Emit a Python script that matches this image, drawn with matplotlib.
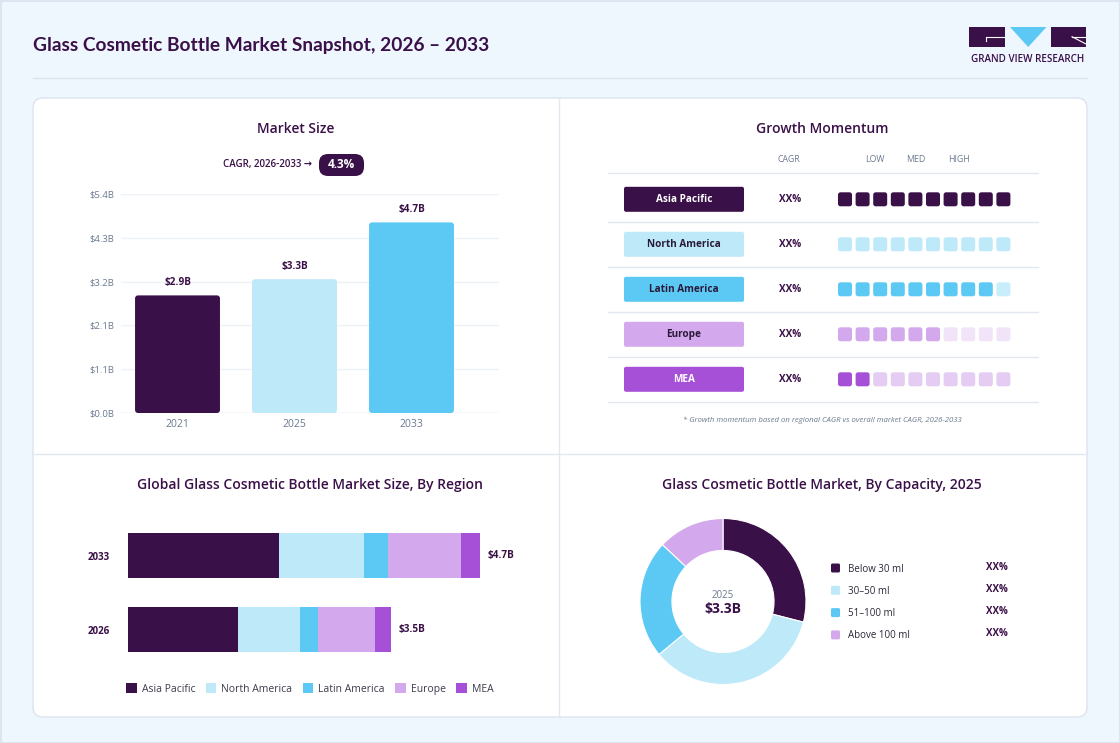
import matplotlib
matplotlib.use('Agg')
import matplotlib.pyplot as plt
from matplotlib.patches import FancyBboxPatch, Rectangle, Polygon
import numpy as np

plt.rcParams['font.family'] = ['Open Sans', 'DejaVu Sans']

# ---------------- data ----------------
title_text = 'Glass Cosmetic Bottle Market Snapshot, 2026 – 2033'

ms_years = ['2021', '2025', '2033']
ms_values = [2.9, 3.3, 4.7]
ms_value_labels = ['$2.9B', '$3.3B', '$4.7B']
ms_tick_labels = ['$0.0B', '$1.1B', '$2.1B', '$3.2B', '$4.3B', '$5.4B']
ms_ymax = 5.4
cagr_text = 'CAGR, 2026-2033 →'
cagr_value = '4.3%'

regions = ['Asia Pacific', 'North America', 'Latin America', 'Europe', 'MEA']
region_colors = ['#3A1048', '#BDE9F9', '#5CC9F5', '#D4A8EC', '#A650D8']
region_text_colors = ['white', '#2A1A3A', '#2A1A3A', '#2A1A3A', 'white']
momentum_cagr = ['XX%', 'XX%', 'XX%', 'XX%', 'XX%']
momentum_filled = [10, 10, 9, 6, 2]
momentum_empty_colors = ['#D9CFE0', '#DDF3FC', '#C9EEFB', '#F1E4F8', '#E4CCF3']
momentum_header = ['CAGR', 'LOW', 'MED', 'HIGH']
momentum_note = '* Growth momentum based on regional CAGR vs overall market CAGR, 2026-2033'

reg_years = ['2033', '2026']
reg_asia_pacific = [2.02, 1.47]
reg_north_america = [1.13, 0.83]
reg_latin_america = [0.32, 0.24]
reg_europe = [0.98, 0.76]
reg_mea = [0.25, 0.21]
reg_total_labels = ['$4.7B', '$3.5B']

capacity = ['Below 30 ml', '30–50 ml', '51–100 ml', 'Above 100 ml']
capacity_share = [29, 35, 23, 13]
capacity_colors = ['#3A1048', '#BDE9F9', '#5CC9F5', '#D4A8EC']
capacity_labels = ['XX%', 'XX%', 'XX%', 'XX%']
donut_year = '2025'
donut_total = '$3.3B'

DARK = '#3A1048'
GRAY = '#6B7A90'
LINE = '#E3E8F0'

W, H = 1120, 743
fig = plt.figure(figsize=(W / 100, H / 100), dpi=100)
fig.patch.set_facecolor('#EFF7FE')

bg = fig.add_axes([0, 0, 1, 1])
bg.set_xlim(0, W)
bg.set_ylim(H, 0)
bg.axis('off')
bg.set_zorder(-1)


def fax(x0, y0, x1, y1):
    return fig.add_axes([x0 / W, 1 - y1 / H, (x1 - x0) / W, (y1 - y0) / H])


# frame
bg.add_patch(Rectangle((0.5, 0.5), W - 1, H - 1, fc='none', ec='#DCE5F0', lw=1.5))

# header
bg.text(33, 46, title_text, fontsize=13.8, fontweight='bold', color=DARK,
        ha='left', va='center', family=['Lato', 'DejaVu Sans'])
bg.plot([33, 1087], [78, 78], color='#DCE3EE', lw=1)

# logo
bg.add_patch(Rectangle((969, 27), 36, 20, fc=DARK, ec='none'))
bg.plot([985.5, 1005], [36.7, 36.7], color='white', lw=0.8)
bg.plot([985.5, 985.5], [36.7, 40.5], color='white', lw=0.8)
bg.add_patch(Polygon([[1010, 27], [1046.5, 27], [1028.2, 47]], closed=True, fc='#5CC9F5', ec='none'))
bg.add_patch(Rectangle((1051, 27), 35, 20, fc=DARK, ec='none'))
bg.plot([1072, 1086], [36.7, 36.7], color='white', lw=0.8)
bg.plot([1072, 1086], [36.7, 44], color='white', lw=0.8)
bg.text(1028, 59, 'GRAND VIEW RESEARCH', fontsize=7.1, color=DARK, ha='center', va='center',
        fontweight='semibold')

# card
bg.add_patch(FancyBboxPatch((33, 98), 1054, 619, boxstyle='round,pad=0,rounding_size=10',
                            fc='white', ec='#DDE3EE', lw=1))
bg.plot([559, 559], [98, 717], color=LINE, lw=1)
bg.plot([33, 1087], [454, 454], color=LINE, lw=1)

# ---------------- Market size ----------------
bg.text(296, 129, 'Market Size', fontsize=10, fontweight='semibold', color=DARK, ha='center', va='center')
bg.text(312, 165, cagr_text, fontsize=7, fontweight='semibold', color=DARK, ha='right', va='center')
bg.add_patch(FancyBboxPatch((319, 154), 45, 22, boxstyle='round,pad=0,rounding_size=9',
                            fc=DARK, ec='none'))
bg.text(341.5, 165, cagr_value, fontsize=8.5, fontweight='bold', color='white', ha='center', va='center')

AX1 = (121, 194, 499, 413)
ax1 = fax(*AX1)
xpos = np.arange(len(ms_years))
bars = ax1.bar(xpos, ms_values, width=0.726, color=region_colors[:3], zorder=3)
xlim1 = (-0.483, 2.748)
ax1.set_xlim(*xlim1)
ax1.set_ylim(0, ms_ymax)
# rounded corners for the bars (same geometry as the bars drawn by ax.bar)
xu = (xlim1[1] - xlim1[0]) / (AX1[2] - AX1[0])
yu = ms_ymax / (AX1[3] - AX1[1])
for b in bars:
    b.set_visible(False)
    ax1.add_patch(FancyBboxPatch((b.get_x(), b.get_y()), b.get_width(), b.get_height(),
                                 boxstyle=f'round,pad=0,rounding_size={3 * xu}',
                                 mutation_aspect=yu / xu, fc=b.get_facecolor(), ec='none', zorder=3))
ticks = np.linspace(0, ms_ymax, len(ms_tick_labels))
ax1.set_yticks(ticks)
ax1.set_yticklabels(ms_tick_labels)
ax1.set_xticks(xpos)
ax1.set_xticklabels(ms_years)
ax1.tick_params(axis='y', length=0, labelsize=6.8, labelcolor=GRAY, pad=5)
ax1.tick_params(axis='x', length=0, labelsize=7.5, labelcolor=GRAY, pad=4)
ax1.grid(axis='y', color='#EEF1F6', lw=1, zorder=0)
for s in ax1.spines.values():
    s.set_visible(False)
ax1.axhline(0, color='#E3E7EE', lw=1, zorder=2)
ax1.set_facecolor('none')
for b, lab in zip(bars, ms_value_labels):
    ax1.annotate(lab, (b.get_x() + b.get_width() / 2, b.get_height()), xytext=(0, 5),
                 textcoords='offset points', ha='center', va='bottom', fontsize=7.2,
                 fontweight='bold', color=DARK)

# ---------------- Growth momentum ----------------
bg.text(822, 129, 'Growth Momentum', fontsize=10, fontweight='semibold', color=DARK, ha='center', va='center')
hdr_x = [789, 875, 916, 959]
for hx, ht in zip(hdr_x, momentum_header):
    bg.text(hx, 160, ht, fontsize=6.3, color=GRAY, ha='center', va='center')
line_y = [173] + [222 + 45 * i for i in range(len(regions))]
for y in line_y:
    bg.plot([608, 1038], [y, y], color=LINE, lw=1)
for i, reg in enumerate(regions):
    yc = 199.3 + 45 * i
    bg.add_patch(FancyBboxPatch((624, yc - 12.5), 120, 25, boxstyle='round,pad=0,rounding_size=2',
                                fc=region_colors[i], ec='none'))
    bg.text(684, yc, reg, fontsize=7.2, fontweight='bold', color=region_text_colors[i],
            ha='center', va='center')
    bg.text(790, yc, momentum_cagr[i], fontsize=7.2, fontweight='bold', color=DARK,
            ha='center', va='center')
    for k in range(10):
        c = region_colors[i] if k < momentum_filled[i] else momentum_empty_colors[i]
        x0 = 838 + k * 17.6
        bg.add_patch(FancyBboxPatch((x0, yc - 7), 14, 14, boxstyle='round,pad=0,rounding_size=2.5',
                                    fc=c, ec='none'))
bg.text(822, 420, momentum_note, fontsize=5.6, style='italic', color=GRAY, ha='center', va='center')

# ---------------- Region stacked bars ----------------
bg.text(310, 485, 'Global Glass Cosmetic Bottle Market Size, By Region', fontsize=10,
        fontweight='semibold', color=DARK, ha='center', va='center')
ax3 = fax(128, 518.5, 528, 666.5)
series = [reg_asia_pacific, reg_north_america, reg_latin_america, reg_europe, reg_mea]
ypos = np.array([1, 0])
left = np.zeros(len(reg_years))
for vals, col, name in zip(series, region_colors, regions):
    ax3.barh(ypos, vals, left=left, height=0.608, color=col, label=name)
    left = left + np.array(vals)
for yy, tot, lab in zip(ypos, left, reg_total_labels):
    ax3.annotate(lab, (tot, yy), xytext=(6, 0), textcoords='offset points', ha='left',
                 va='center', fontsize=7.2, fontweight='bold', color=DARK)
ax3.set_xlim(0, 400 / 74.83)
ax3.set_ylim(-0.5, 1.5)
ax3.set_yticks(ypos)
ax3.set_yticklabels(reg_years)
ax3.tick_params(axis='y', length=0, labelsize=7, labelcolor=DARK, pad=13)
for t in ax3.get_yticklabels():
    t.set_fontweight('bold')
ax3.set_xticks([])
for s in ax3.spines.values():
    s.set_visible(False)
ax3.set_facecolor('none')
leg = ax3.legend(loc='center', bbox_to_anchor=(310 / W, 1 - 689 / H), bbox_transform=fig.transFigure,
                 ncol=5, frameon=False, fontsize=7.5, handlelength=1.0, handleheight=1.0,
                 handletextpad=0.5, columnspacing=1.0)
for t in leg.get_texts():
    t.set_color('#3B3B4F')

# ---------------- Donut ----------------
bg.text(822, 485, 'Glass Cosmetic Bottle Market, By Capacity, 2025', fontsize=10,
        fontweight='semibold', color=DARK, ha='center', va='center')
R = 83
ax4 = fax(723 - R, 601.5 - R, 723 + R, 601.5 + R)
ax4.pie(capacity_share, colors=capacity_colors, startangle=90, counterclock=False, radius=1,
        wedgeprops=dict(width=0.385, edgecolor='white', linewidth=0.8))
ax4.set_xlim(-1, 1)
ax4.set_ylim(-1, 1)
ax4.axis('off')
ax4.text(0, 0.07, donut_year, fontsize=7, color=GRAY, ha='center', va='center')
ax4.text(0, -0.09, donut_total, fontsize=10, fontweight='bold', color=DARK, ha='center', va='center')

for i, (cap, col, lab) in enumerate(zip(capacity, capacity_colors, capacity_labels)):
    yc = 568 + i * 22.3
    bg.add_patch(FancyBboxPatch((831, yc - 4.5), 9, 9, boxstyle='round,pad=0,rounding_size=1.5',
                                fc=col, ec='none'))
    bg.text(848, yc + 1, cap, fontsize=7, color='#2A2A3A', ha='left', va='center')
    bg.text(997, yc - 1, lab, fontsize=7, fontweight='bold', color=DARK, ha='center', va='center')

fig.savefig('out.png', dpi=100, facecolor=fig.get_facecolor())
